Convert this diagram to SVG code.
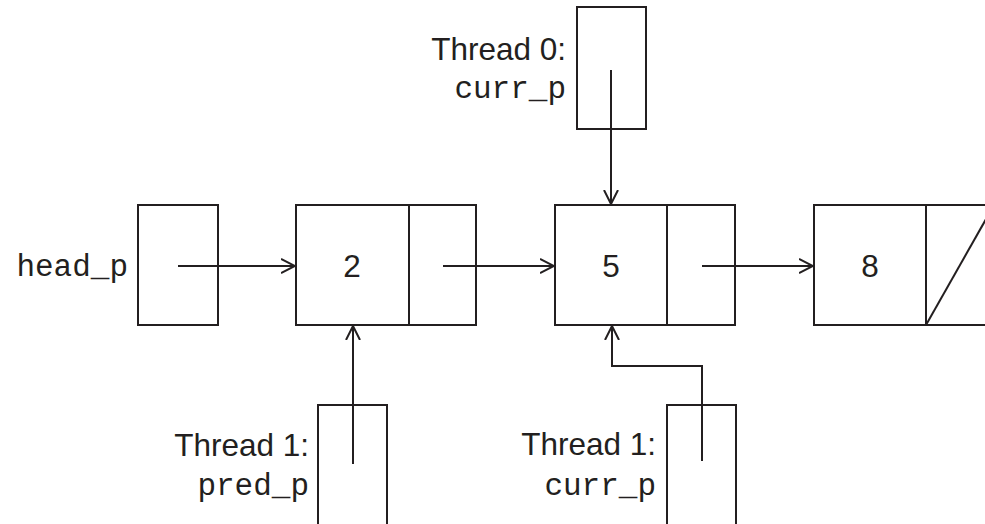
<svg xmlns="http://www.w3.org/2000/svg" width="985" height="524" viewBox="0 0 985 524">
<defs>
<style>
.box{fill:none;stroke:#231f20;stroke-width:2}
.ln{fill:none;stroke:#231f20;stroke-width:2}
.sans{font-family:"Liberation Sans",Arial,sans-serif;font-size:31.5px;fill:#231f20}
.mono{font-family:"Liberation Mono","Courier New",monospace;font-size:31px;fill:#231f20}
</style>
<marker id="ah" markerWidth="16" markerHeight="16" viewBox="-14 -8 16 16" refX="0" refY="0" orient="auto" markerUnits="userSpaceOnUse">
<path d="M-14,-7 L0,0 L-14,7" fill="none" stroke="#231f20" stroke-width="2"/>
</marker>
</defs>
<rect width="985" height="524" fill="#fff"/>
<g id="head_p">
<rect class="box" x="138" y="205" width="80" height="120"/>
<text class="mono" x="128" y="276" text-anchor="end">head_p</text>
</g>
<g id="node2">
<rect class="box" x="296" y="205" width="180" height="120"/>
<line class="ln" x1="409" y1="205" x2="409" y2="325"/>
<text class="sans" x="352" y="277" text-anchor="middle">2</text>
</g>
<g id="node5">
<rect class="box" x="555" y="205" width="180" height="120"/>
<line class="ln" x1="667" y1="205" x2="667" y2="325"/>
<text class="sans" x="611" y="277" text-anchor="middle">5</text>
</g>
<g id="node8">
<rect class="box" x="814" y="205" width="180" height="120"/>
<line class="ln" x1="926" y1="205" x2="926" y2="325"/>
<line class="ln" x1="926" y1="325" x2="994" y2="205"/>
<text class="sans" x="870" y="277" text-anchor="middle">8</text>
</g>
<g id="t0_curr_p">
<rect class="box" x="577" y="7" width="69" height="122"/>
<text class="sans" x="566" y="60" text-anchor="end">Thread 0:</text>
<text class="mono" x="566" y="98" text-anchor="end">curr_p</text>
</g>
<g id="t1_pred_p">
<rect class="box" x="318" y="405" width="69" height="130"/>
<text class="sans" x="309" y="456" text-anchor="end">Thread 1:</text>
<text class="mono" x="309" y="495" text-anchor="end">pred_p</text>
</g>
<g id="t1_curr_p">
<rect class="box" x="667" y="405" width="69" height="130"/>
<text class="sans" x="656" y="455" text-anchor="end">Thread 1:</text>
<text class="mono" x="656" y="495" text-anchor="end">curr_p</text>
</g>
<g id="connectors">
<line class="ln" x1="178" y1="266" x2="295" y2="266" marker-end="url(#ah)"/>
<line class="ln" x1="443" y1="266" x2="554" y2="266" marker-end="url(#ah)"/>
<line class="ln" x1="702" y1="266" x2="813" y2="266" marker-end="url(#ah)"/>
<line class="ln" x1="611" y1="70" x2="611" y2="204" marker-end="url(#ah)"/>
<line class="ln" x1="353" y1="464" x2="353" y2="326" marker-end="url(#ah)"/>
<polyline class="ln" points="702,461 702,366 612,366 612,326" marker-end="url(#ah)"/>
</g>
</svg>
